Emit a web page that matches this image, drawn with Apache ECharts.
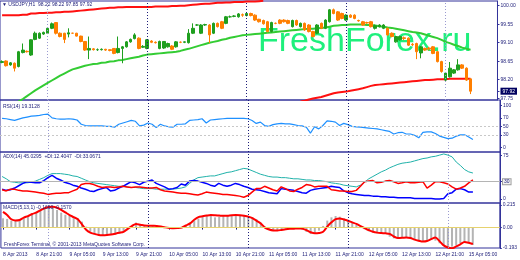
<!DOCTYPE html>
<html><head><meta charset="utf-8">
<script src="https://cdn.jsdelivr.net/npm/echarts@6/dist/echarts.min.js"></script>
<style>html,body{margin:0;padding:0;background:#fff}#c{width:520px;height:260px}</style>
</head><body><div id="c"></div>
<script>
// ---- data (H1 bars, index 0 = 8 Apr 2013 13:00) ----
const opens = [98.62,98.655,98.56,98.60,98.52,98.86,98.89,98.80,99.18,99.21,
99.31,99.33,99.45,99.59,99.33,99.33,99.31,99.33,99.33,99.26,
99.13,98.92,98.95,98.93,98.93,98.94,98.93,98.96,98.86,98.96,
99.00,99.12,99.20,99.21,98.99,98.96,99.14,99.11,98.96,98.97,
99.00,99.02,99.00,99.11,99.11,99.10,99.33,99.53,99.33,99.53,
99.53,99.33,99.57,99.61,99.57,99.73,99.74,99.73,99.78,99.76,
99.81,99.77,99.67,99.64,99.61,99.37,99.57,99.65,99.65,99.64,
99.49,99.64,99.49,99.57,99.53,99.37,99.33,99.57,99.45,99.61,
99.90,99.85,99.81,99.65,99.77,99.77,99.64,99.61,99.59,99.61,
99.45,99.49,99.45,99.45,99.33,99.12,99.17,99.22,99.21,99.06,
99.08,98.85,98.96,98.97,99.00,98.88,98.64,98.19,98.27,98.36,
98.44,98.56,98.48,98.22];
const closes = [98.64,98.54,98.61,98.48,98.88,98.92,98.88,99.17,99.33,99.33,
99.35,99.45,99.56,99.33,99.25,99.18,99.34,99.33,99.26,99.13,
98.92,98.96,98.93,98.93,98.94,98.92,98.91,98.84,98.96,99.00,
99.12,99.18,99.29,98.96,99.01,99.17,99.11,99.10,99.13,99.13,
99.08,98.94,99.12,99.11,99.12,99.33,99.45,99.53,99.53,99.54,
99.29,99.57,99.49,99.45,99.73,99.73,99.75,99.80,99.77,99.81,
99.76,99.65,99.61,99.56,99.37,99.59,99.57,99.57,99.61,99.57,
99.64,99.53,99.57,99.41,99.37,99.25,99.53,99.45,99.65,99.90,
99.81,99.65,99.69,99.77,99.72,99.69,99.63,99.53,99.58,99.49,
99.51,99.53,99.53,99.29,99.25,99.25,99.25,99.20,99.04,99.05,
98.88,99.00,98.92,98.95,98.84,98.64,98.40,98.36,98.48,98.44,
98.56,98.48,98.19,97.92];
const lows = [98.60,98.52,98.54,98.40,98.50,98.84,98.86,98.78,99.16,99.19,
99.29,99.31,99.43,99.30,99.23,99.09,99.23,99.32,99.25,99.11,
98.90,98.70,98.91,98.90,98.91,98.90,98.89,98.82,98.84,98.60,
98.98,99.10,99.18,98.94,98.97,98.94,99.09,99.08,98.94,98.95,
98.98,98.92,98.98,99.09,99.09,99.08,99.31,99.51,99.31,99.51,
99.09,99.31,99.47,99.43,99.55,99.71,99.72,99.71,99.73,99.74,
99.74,99.63,99.59,99.54,99.35,99.35,99.55,99.55,99.59,99.55,
99.47,99.51,99.47,99.39,99.35,99.23,99.31,99.43,99.43,99.59,
99.79,99.63,99.67,99.63,99.70,99.67,99.61,99.51,99.56,99.47,
99.42,99.47,99.43,99.27,99.23,99.10,99.15,99.16,99.02,99.02,
98.70,98.72,98.90,98.91,98.82,98.62,98.37,98.15,98.25,98.34,
98.42,98.46,98.17,97.85];
const highs = [98.67,98.67,98.63,98.62,98.90,99.08,98.91,99.18,99.37,99.35,
99.37,99.47,99.59,99.60,99.35,99.34,99.45,99.34,99.34,99.27,
99.14,99.25,98.97,98.96,98.96,98.95,98.94,98.97,99.25,99.02,
99.14,99.20,99.33,99.23,99.04,99.19,99.16,99.13,99.15,99.14,
99.10,99.04,99.14,99.13,99.13,99.43,99.57,99.55,99.55,99.56,
99.55,99.59,99.59,99.63,99.75,99.76,99.77,99.82,99.81,99.83,
99.83,99.79,99.68,99.66,99.63,99.61,99.59,99.67,99.67,99.66,
99.66,99.66,99.59,99.59,99.55,99.39,99.55,99.59,99.67,99.92,
99.93,99.87,99.83,99.79,99.79,99.79,99.66,99.63,99.61,99.63,
99.54,99.55,99.55,99.47,99.35,99.27,99.27,99.25,99.23,99.09,
99.10,99.02,98.98,99.00,99.02,98.90,98.66,98.38,98.63,98.46,
98.70,98.58,98.50,98.22];
const greenMA = [97.42,97.48,97.54,97.60,97.67,97.73,97.80,97.87,97.94,98.00,
98.06,98.12,98.18,98.24,98.30,98.35,98.40,98.45,98.48,98.51,
98.54,98.56,98.58,98.59,98.61,98.62,98.64,98.65,98.67,98.68,
98.70,98.72,98.74,98.76,98.79,98.81,98.82,98.83,98.84,98.85,
98.86,98.87,98.88,98.90,98.93,98.95,98.98,99.01,99.04,99.07,
99.10,99.12,99.14,99.17,99.19,99.22,99.24,99.26,99.28,99.29,
99.30,99.31,99.32,99.33,99.34,99.35,99.36,99.37,99.38,99.39,
99.40,99.41,99.42,99.43,99.44,99.44,99.45,99.46,99.47,99.49,
99.51,99.52,99.53,99.53,99.54,99.54,99.54,99.54,99.53,99.53,
99.52,99.50,99.49,99.47,99.46,99.44,99.42,99.40,99.38,99.36,
99.35,99.33,99.30,99.27,99.24,99.21,99.17,99.12,99.09,99.05,
99.02,98.98,98.95,98.93];
const redUpper = [99.77,99.77,99.77,99.77,99.77,99.78,99.78,99.81,99.81,99.82,
99.82,99.83,99.83,99.84,99.84,99.85,99.85,99.86,99.87,99.88,
99.89,99.90,99.91,99.92,99.93,99.94,99.95,99.95,99.96,99.96,
99.97,99.97,99.97,99.97,99.97,99.97,99.97,99.98,99.98,99.98,
99.98,99.99,99.99,100.00,100.00,100.01,100.02,100.03,100.04,100.05,
100.05,100.06,100.07,100.07,100.08,100.08,100.09,100.09,100.09,100.10,
100.10,100.10,100.11,100.12];
const redLowerStart = 72;
const redLower = [97.67,97.69,97.72,97.74,97.76,97.78,97.81,97.84,
97.87,97.89,97.90,97.91,97.93,97.95,97.97,97.99,98.02,98.05,
98.07,98.08,98.09,98.10,98.11,98.12,98.13,98.14,98.15,98.16,
98.17,98.18,98.19,98.19,98.20,98.21,98.21,98.21,98.22,98.22,
98.22,98.22,98.22,98.22];
const rsi = [69,68,66,64,67,70,72,74,75,76,78,79,70,68,67,67,68,67,65,55,
52,51,51,51,51,50,50,48,55,58,61,64,62,51,53,58,55,47,55,51,
49,48,55,55,56,64,65,66,68,58,65,66,67,68,69,69,69,69,69,68,
64,57,60,52,50,54,56,57,56,56,54,52,51,48,34,49,44,52,63,62,
60,52,57,54,50,49,48,47,46,45,44,42,40,38,32,35,36,32,32,29,
23,36,37,37,33,27,24,21,22,27,30,30,25,19];
const adx = [39,35,30,29,28,28,28,29,31,34,37,41,44,44,44,43,42,40,39,36,
33,30,28,27,26,25,24,23,22,22,21,20,20,19,18,18,18,17,17,17,
17,17,18,19,21,27,33,37,38,39,40,40,42,44,46,47,49,51,53,52,
49,46,43,41,39,38,38,37,37,36,35,35,34,33,33,32,32,31,30,28,
27,26,24,23,22,21,24,29,35,39,43,47,50,54,57,60,62,63,64,66,
68,70,71,73,74,76,78,76,73,64,58,51,47,45];
const plusDI = [17,15,16,19,23,27,30,29,28,28,32,37,41,36,33,29,27,24,22,19,
17,14,13,16,18,20,14,15,19,22,26,30,28,25,29,31,33,27,24,21,
17,18,20,26,24,31,32,31,29,27,24,22,27,24,22,24,27,25,22,20,
17,16,15,13,11,10,9,18,17,16,15,13,11,10,15,17,18,19,20,22,
21,20,14,11,9,8,7,6,6,5,5,4,4,3,3,2,2,2,2,1,
1,1,1,1,0,0,1,9,11,17,18,16,12,12];
const minusDI = [16,14,17,17,15,14,14,13,12,11,10,8,9,10,10,11,11,14,17,25,
27,27,25,22,20,21,21,20,21,22,21,20,21,21,20,19,19,20,16,14,
13,12,11,10,10,9,8,7,9,12,11,10,9,8,8,7,6,5,3,6,
12,18,18,22,19,16,14,21,18,14,13,17,20,25,24,21,22,22,22,16,
15,14,14,13,13,15,22,30,31,32,28,29,31,32,30,27,28,30,28,28,
29,30,19,24,30,30,28,26,21,17,19,22,28,33];
const macdHist = [0.089,0.083,0.067,0.064,0.073,0.089,0.104,0.13,0.152,0.174,
0.187,0.2,0.194,0.168,0.143,0.123,0.114,0.104,0.089,0.057,
0.009,-0.039,-0.061,-0.071,-0.074,-0.074,-0.071,-0.068,-0.055,-0.039,
-0.016,0.009,0.048,0.035,0.025,0.019,0.016,0.016,0.013,0.003,
-0.003,-0.01,-0.01,0.003,0.025,0.048,0.067,0.086,0.104,0.117,
0.111,0.098,0.104,0.111,0.117,0.12,0.123,0.12,0.117,0.111,
0.098,0.079,0.048,0.009,-0.016,-0.023,-0.023,-0.016,-0.007,-0.003,
-0.003,-0.01,-0.023,-0.042,-0.061,-0.055,-0.029,0.016,0.067,0.098,
0.111,0.104,0.089,0.067,0.048,0.025,0.003,-0.016,-0.036,-0.048,
-0.055,-0.055,-0.061,-0.087,-0.103,-0.103,-0.1,-0.093,-0.1,-0.119,
-0.131,-0.135,-0.125,-0.112,-0.125,-0.15,-0.175,-0.188,-0.182,-0.166,
-0.15,-0.143,-0.15,-0.166];
const macdSignal = [0.15,0.12,0.08,0.068,0.073,0.095,0.11,0.13,0.143,0.165,
0.185,0.197,0.2,0.19,0.17,0.145,0.12,0.1,0.08,0.03,
-0.02,-0.048,-0.06,-0.07,-0.072,-0.07,-0.065,-0.058,-0.05,-0.04,
-0.012,0.015,0.035,0.028,0.02,0.018,0.017,0.016,0.01,0.002,
-0.003,-0.006,-0.005,0,0.02,0.04,0.075,0.1,0.108,0.115,
0.12,0.118,0.115,0.112,0.114,0.118,0.12,0.118,0.113,0.105,
0.09,0.065,0.04,0.0,-0.018,-0.027,-0.028,-0.022,-0.016,-0.012,
-0.01,-0.008,-0.01,-0.025,-0.045,-0.055,-0.052,-0.04,0.01,0.05,
0.08,0.088,0.078,0.065,0.05,0.035,0.015,-0.005,-0.025,-0.04,
-0.048,-0.052,-0.055,-0.06,-0.085,-0.1,-0.098,-0.094,-0.1,-0.115,
-0.125,-0.133,-0.128,-0.11,-0.095,-0.13,-0.17,-0.19,-0.197,-0.18,
-0.16,-0.138,-0.145,-0.157];
const tickIdx = [0,8,16,24,32,40,48,56,64,72,80,88,96,104,112];
const tickText = ["8 Apr 2013","8 Apr 21:00","9 Apr 05:00","9 Apr 13:00","9 Apr 21:00","10 Apr 05:00","10 Apr 13:00","10 Apr 21:00","11 Apr 05:00","11 Apr 13:00","11 Apr 21:00","12 Apr 05:00","12 Apr 13:00","12 Apr 21:00","15 Apr 05:00"];
const dayBreaks = [11,35,59,83,107];
const priceTicks = [97.75,98.20,98.65,99.10,99.55,100.00];
const lastPrice = 97.92;
const rsiTicks = [0,30,50,70,100];
const rsiLevels = [30,50];
const adxTicks = [0,30,75];
const adxLevel = 30;
const macdTicks = [-0.193,0,0.215];
const headers = {
  main: "\u25BC USDJPY,H1  98.22 98.22 97.85 97.92",
  rsi: "RSI(14) 19.3128",
  adx: "ADX(14) 45.0295  +DI:12.4047  -DI:33.0671",
  macd: "MACD(5,13,1) -0.1660 -0.1570",
  copy: "FreshForex Terminal, \u00A9 2001-2013 MetaQuotes Software Corp.",
  mark: "FreshForex.ru"
};

// ---- chart ----
const NSLOT = 120;
const cats = []; for (let i = 0; i < NSLOT; i++) cats.push(String(i));
const candles = opens.map((o, i) => [o, closes[i], lows[i], highs[i]]);
const redLowerData = new Array(redLowerStart).fill(null).concat(redLower);

const NAVY = '#1c1c78', FRAME = '#33339a', FONT = 'Liberation Sans';
const sepColors = ['#9a9ad0', NAVY, NAVY, NAVY, '#9a9ad0'];
const sepLines = dayBreaks.map((d, k) => ({xAxis: String(d), lineStyle: {color: sepColors[k], type: [1, 2], width: 1}}));
const mk = (extra) => ({symbol: ['none', 'none'], silent: true, label: {show: false}, animation: false, data: sepLines.concat(extra || [])});

const grids = [
  {left: 0, width: 500, top: 1, height: 99},
  {left: 0, width: 500, top: 100, height: 52},
  {left: 0, width: 500, top: 152, height: 51},
  {left: 0, width: 500, top: 203, height: 45}
].map(g => Object.assign(g, {show: true, borderColor: FRAME, borderWidth: 1, backgroundColor: 'transparent'}));

const showTick = (idx) => tickIdx.indexOf(idx) >= 0;
const xAxes = [0, 1, 2, 3].map(g => ({
  type: 'category', gridIndex: g, data: cats, boundaryGap: true,
  axisLine: {show: false}, splitLine: {show: false},
  axisTick: g === 3 ? {show: true, alignWithLabel: true, interval: showTick, length: 2, lineStyle: {color: NAVY}} : {show: false},
  axisLabel: g === 3 ? {show: true, interval: showTick, align: 'left', margin: 4, fontSize: 5, color: NAVY, fontFamily: FONT,
    formatter: (v, idx) => tickText[tickIdx.indexOf(idx)] || ''} : {show: false}
}));

const yBase = (g, min, max, ticks, fmt, rich) => ({
  type: 'value', gridIndex: g, min: min, max: max, position: 'right',
  axisLine: {show: true, lineStyle: {color: FRAME}},
  axisTick: {show: true, length: 2, customValues: ticks, lineStyle: {color: FRAME}},
  splitLine: {show: false},
  axisLabel: {show: true, customValues: ticks, margin: 3, fontSize: 5, color: NAVY, fontFamily: FONT, formatter: fmt, rich: rich || {}}
});

const yAxes = [
  yBase(0, 97.706, 100.114, priceTicks.concat([lastPrice]),
    v => Math.abs(v - lastPrice) < 1e-6 ? '{cur|' + v.toFixed(2) + '}' : v.toFixed(2),
    {cur: {backgroundColor: '#000060', color: '#ffffff', fontSize: 5, padding: [1, 2, 1, 2], fontFamily: FONT}}),
  yBase(1, -10.6, 112.3, rsiTicks, v => String(Math.round(v))),
  yBase(2, -6.9, 81.4, adxTicks, v => v === adxLevel ? '{lv|' + v + '}' : String(v),
    {lv: {borderColor: '#a0a0a0', borderWidth: 1, backgroundColor: '#f0f0f0', color: NAVY, fontSize: 5, padding: [0, 1, 0, 1]}}),
  yBase(3, -0.195, 0.235, macdTicks, v => v === 0 ? '0.00' : v.toFixed(3))
];

const line = (name, data, g, color, width, extra) => Object.assign({
  type: 'line', name: name, data: data, xAxisIndex: g, yAxisIndex: g, symbol: 'none',
  lineStyle: {color: color, width: width}, itemStyle: {color: color}, connectNulls: false, clip: true, z: 3
}, extra || {});

const series = [
  {type: 'candlestick', name: 'USDJPY', data: candles, xAxisIndex: 0, yAxisIndex: 0, barWidth: 3, z: 4,
    itemStyle: {color: '#1f9f1f', color0: '#ff7f00', borderColor: '#1f9f1f', borderColor0: '#ff7f00', borderWidth: 1},
    markLine: mk()},
  line('MA green', greenMA, 0, '#33cc33', 2),
  line('MA red upper', redUpper, 0, '#ff1010', 2),
  line('MA red lower', redLowerData, 0, '#ff1010', 2),
  line('RSI', rsi, 1, '#1e90ff', 1.2, {markLine: mk(rsiLevels.map(v => ({yAxis: v, lineStyle: {color: '#c8c8c8', type: [2, 2], width: 1}})))}),
  line('ADX', adx, 2, '#20b2aa', 1, {markLine: mk([{yAxis: adxLevel, lineStyle: {color: '#b4b4b4', type: 'solid', width: 1}}])}),
  line('+DI', plusDI, 2, '#0000ff', 1.5),
  line('-DI', minusDI, 2, '#ff0000', 1.5),
  {type: 'bar', name: 'MACD', data: macdHist, xAxisIndex: 3, yAxisIndex: 3, barWidth: 2, itemStyle: {color: '#b4b4b4'}, z: 2,
    markLine: mk([{yAxis: 0, lineStyle: {color: '#e6d26e', type: 'solid', width: 1}}])},
  line('Signal', macdSignal, 3, '#ff0000', 2, {smooth: 0.3})
];

const tstyle = {fontSize: 5, color: NAVY, fontWeight: 'normal', fontFamily: FONT};
const option = {
  animation: false,
  backgroundColor: '#ffffff',
  title: [
    {text: headers.main, left: 2, top: 2, padding: 0, textStyle: tstyle},
    {text: headers.rsi, left: 3, top: 104, padding: 0, textStyle: tstyle},
    {text: headers.adx, left: 3, top: 154, padding: 0, textStyle: tstyle},
    {text: headers.macd, left: 3, top: 205, padding: 0, textStyle: tstyle},
    {text: headers.copy, left: 4, top: 242, padding: 0, textStyle: tstyle}
  ],
  graphic: [{type: 'text', left: 258, top: 25, z: 1, silent: true,
    style: {text: headers.mark, fontSize: 34, fontFamily: FONT, fill: '#1ef07c'}}],
  grid: grids,
  xAxis: xAxes,
  yAxis: yAxes,
  series: series
};
const chart = echarts.init(document.getElementById('c'), null, {renderer: 'canvas'});
chart.setOption(option);
</script></body></html>
